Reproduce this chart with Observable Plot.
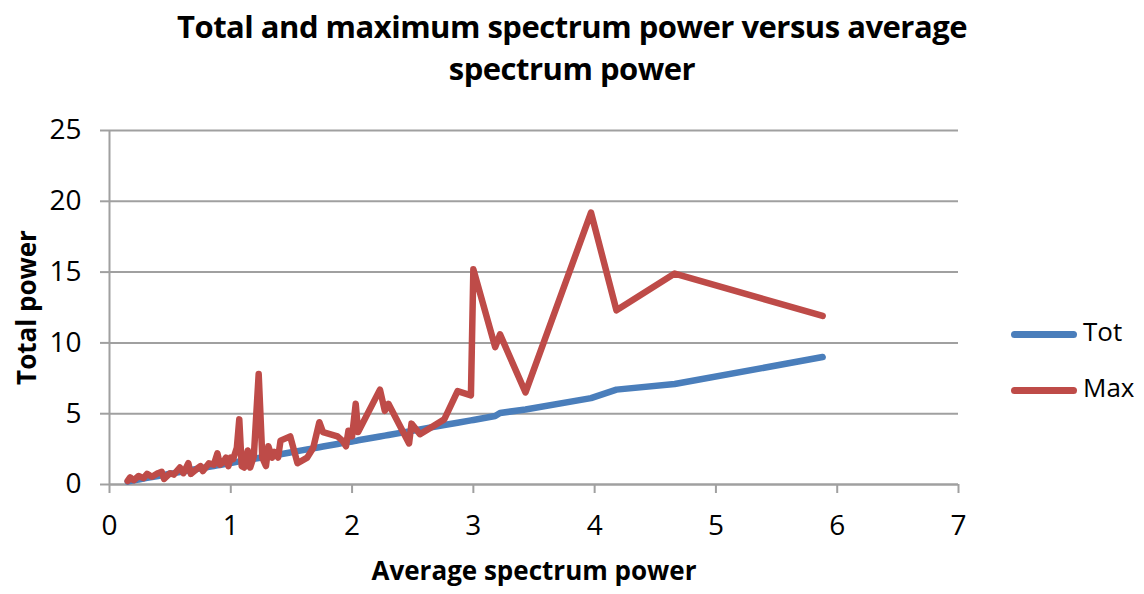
<!DOCTYPE html>
<html><head><meta charset="utf-8">
<script src="https://cdn.jsdelivr.net/npm/d3@7"></script>
<script src="https://cdn.jsdelivr.net/npm/@observablehq/plot@0.6"></script>
<style>
body{margin:0;background:#fff;font-family:"Open Sans",sans-serif;}
#wrap{position:relative;width:1144px;height:594px;overflow:hidden;}
#title{position:absolute;left:0;top:5px;width:1144px;text-align:center;font-weight:700;font-size:31px;line-height:42px;letter-spacing:-0.5px;color:#000;}
#chart{position:absolute;left:0;top:100px;}
.leg{position:absolute;left:1011px;font-size:26px;color:#000;line-height:30px;}
.leg span.sw{display:inline-block;width:66px;height:7px;border-radius:4px;vertical-align:middle;margin-right:6px;}
</style></head>
<body>
<div id="wrap">
  <div id="title">Total and maximum spectrum power versus average<br>spectrum power</div>
  <div id="chart"></div>
  <div class="leg" style="top:316px"><span class="sw" style="background:#4a7ebb"></span>Tot</div>
  <div class="leg" style="top:372px"><span class="sw" style="background:#be4b48"></span>Max</div>
</div>
<script>
const avgPower = [0.15,0.17,0.20,0.24,0.28,0.31,0.35,0.40,0.43,0.45,0.50,0.53,0.58,0.61,0.65,0.67,0.72,0.75,0.77,0.82,0.86,0.89,0.91,0.94,0.96,0.98,1.00,1.02,1.05,1.07,1.09,1.11,1.14,1.16,1.19,1.23,1.26,1.29,1.31,1.34,1.36,1.39,1.41,1.49,1.55,1.63,1.68,1.73,1.76,1.88,1.92,1.95,1.97,2.00,2.03,2.05,2.23,2.27,2.30,2.47,2.49,2.56,2.76,2.87,2.98,3.00,3.18,3.22,3.43,3.97,4.18,4.66,5.88];
const totPower = [0.20,0.25,0.30,0.35,0.42,0.47,0.53,0.60,0.65,0.68,0.76,0.80,0.88,0.93,0.99,1.02,1.09,1.14,1.17,1.25,1.31,1.35,1.38,1.43,1.46,1.49,1.52,1.55,1.60,1.63,1.66,1.69,1.73,1.76,1.81,1.87,1.92,1.96,1.99,2.04,2.07,2.11,2.14,2.26,2.36,2.48,2.55,2.63,2.68,2.86,2.92,2.96,2.99,3.04,3.08,3.12,3.39,3.45,3.50,3.75,3.78,3.89,4.20,4.36,4.53,4.56,4.84,5.05,5.30,6.10,6.70,7.10,9.00];
const maxPower = [0.25,0.50,0.30,0.60,0.45,0.75,0.55,0.80,0.90,0.40,0.80,0.70,1.20,0.80,1.50,0.75,1.10,1.30,0.95,1.50,1.40,2.20,1.40,1.60,1.90,1.30,1.90,1.80,2.60,4.60,1.30,1.20,2.40,1.20,2.00,7.80,1.90,1.30,2.70,1.90,2.30,1.90,3.10,3.40,1.50,1.90,2.60,4.40,3.70,3.40,3.10,2.70,3.80,3.40,5.70,3.70,6.70,5.20,5.70,2.90,4.30,3.55,4.60,6.60,6.30,15.20,9.70,10.60,6.50,19.20,12.30,14.90,11.90];
const xTicks = [0,1,2,3,4,5,6,7];
const yTicks = [0,5,10,15,20,25];
const xLabel = "Average spectrum power";
const yLabel = "Total power";

const rows = avgPower.map((x, i) => ({x, tot: totPower[i], max: maxPower[i]}));
const gray = "#a0a0a0";

const chart = Plot.plot({
  width: 1144,
  height: 494,
  marginTop: 30,
  marginBottom: 110,
  marginLeft: 109,
  marginRight: 186,
  style: {fontFamily: "'Open Sans', sans-serif", color: "#000", background: "#fff"},
  x: {domain: [0, 7]},
  y: {domain: [0, 25]},
  marks: [
    Plot.gridY(yTicks, {stroke: gray, strokeOpacity: 1, strokeWidth: 2}),
    Plot.ruleX([0], {stroke: gray, strokeWidth: 2}),
    Plot.ruleY([0], {stroke: gray, strokeWidth: 2}),
    Plot.axisY(yTicks, {tickSize: 9, tickPadding: 19, fontSize: 28, stroke: gray, strokeWidth: 2, fill: "#000", label: null, tickFormat: d => String(d)}),
    Plot.axisX(xTicks, {tickSize: 9, tickPadding: 22, fontSize: 28, stroke: gray, strokeWidth: 2, fill: "#000", label: null, tickFormat: d => String(d)}),
    Plot.line(rows, {x: "x", y: "tot", stroke: "#4a7ebb", strokeWidth: 6.5, strokeLinejoin: "round", strokeLinecap: "round"}),
    Plot.line(rows, {x: "x", y: "max", stroke: "#be4b48", strokeWidth: 6.5, strokeLinejoin: "round", strokeLinecap: "round"}),
    Plot.text([xLabel], {frameAnchor: "bottom", dy: 95, fontSize: 26, fontWeight: "bold", fill: "#000", textAnchor: "middle"}),
    Plot.text([yLabel], {frameAnchor: "left", dx: -82, rotate: -90, fontSize: 26, fontWeight: "bold", fill: "#000", textAnchor: "middle"})
  ]
});
document.getElementById("chart").appendChild(chart);
</script>
</body></html>
